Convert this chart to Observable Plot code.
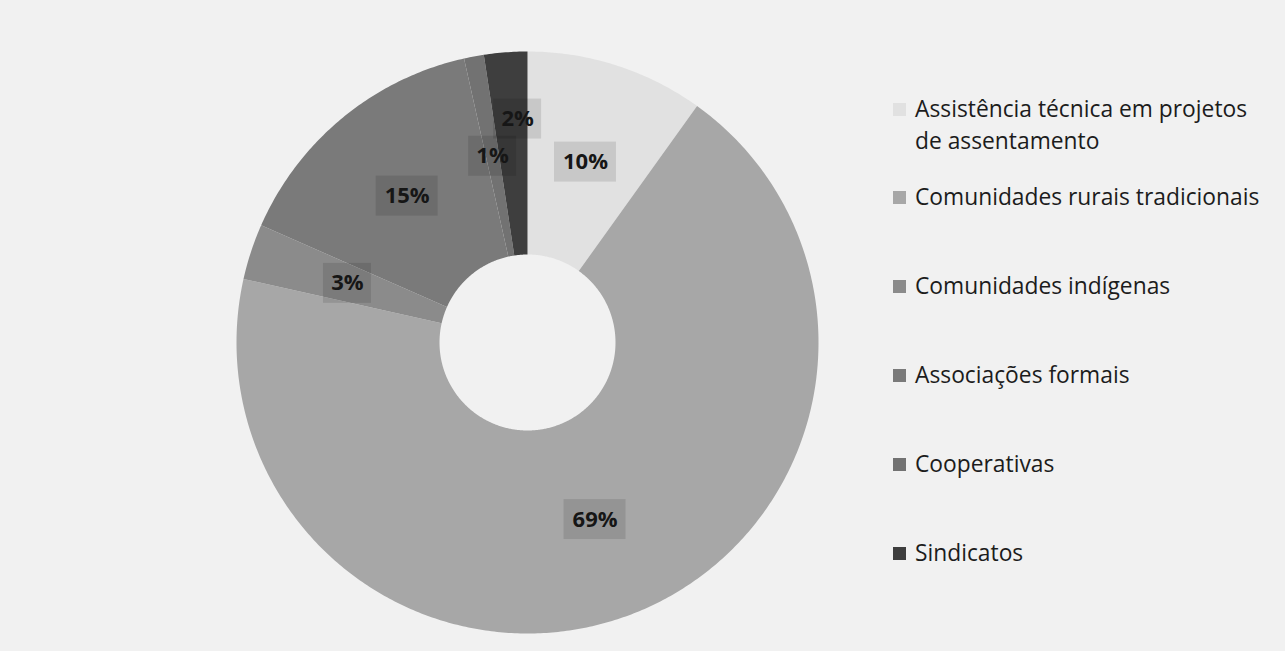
<!DOCTYPE html>
<html>
<head>
<meta charset="utf-8">
<script src="https://cdn.jsdelivr.net/npm/d3@7"></script>
<script src="https://cdn.jsdelivr.net/npm/@observablehq/plot@0.6"></script>
<style>
  html, body { margin: 0; padding: 0; background: #f1f1f1; }
  #wrap { position: relative; width: 1285px; height: 651px; overflow: hidden; }
  #legend { position: absolute; left: 893px; top: 93px; font-family: "Open Sans", sans-serif; font-size: 22.8px; color: #1c1c1c; }
  .item { display: flex; align-items: flex-start; line-height: 32px; margin-bottom: 57px; }
  .item:first-child { margin-bottom: 24px; }
  .sw { width: 13px; height: 13px; flex: none; margin-top: 10px; margin-right: 9px; }
  .txt { width: 352px; white-space: normal; }
</style>
</head>
<body>
<div id="wrap"><div id="legend"></div></div>
<script>
const categories = [
  "Assistência técnica em projetos de assentamento",
  "Comunidades rurais tradicionais",
  "Comunidades indígenas",
  "Associações formais",
  "Cooperativas",
  "Sindicatos"
];
const values = [9.9, 68.6, 3.1, 14.9, 1.1, 2.4];
const labels = ["10%", "69%", "3%", "15%", "1%", "2%"];
const colors = ["#e1e1e1", "#a7a7a7", "#8b8b8b", "#7a7a7a", "#727272", "#3e3e3e"];

const outerPx = 291, innerPx = 88;
const R0 = innerPx / outerPx;
const total = d3.sum(values);
let cum = 0;
const slices = categories.map((name, i) => {
  const a0 = cum / total * 2 * Math.PI;
  cum += values[i];
  const a1 = cum / total * 2 * Math.PI;
  return {name, value: values[i], label: labels[i], a0, a1};
});

const ring = slices.flatMap(s => {
  const n = Math.max(2, Math.ceil((s.a1 - s.a0) / 0.01));
  const pts = [];
  for (let k = 0; k <= n; k++) {
    const a = s.a0 + (s.a1 - s.a0) * k / n;
    pts.push({name: s.name, x: Math.sin(a), y: Math.cos(a)});
  }
  for (let k = n; k >= 0; k--) {
    const a = s.a0 + (s.a1 - s.a0) * k / n;
    pts.push({name: s.name, x: R0 * Math.sin(a), y: R0 * Math.cos(a)});
  }
  return pts;
});

const labelData = slices.map((s, i) => {
  const mid = (s.a0 + s.a1) / 2;
  const r = i === slices.length - 1 ? 0.77 : (1 + R0) / 2;
  const nudge = i === slices.length - 1 ? 7 / outerPx : 0;
  const x = r * Math.sin(mid) + nudge, y = r * Math.cos(mid);
  const hw = (s.label.length === 3 ? 31 : 24) / outerPx, hh = 20 / outerPx;
  return {name: s.name, label: s.label, x, y, x1: x - hw, x2: x + hw, y1: y - hh, y2: y + hh};
});

const chart = Plot.plot({
  width: 1285,
  height: 651,
  marginLeft: 236,
  marginRight: 467,
  marginTop: 51,
  marginBottom: 18,
  x: {domain: [-1, 1], axis: null},
  y: {domain: [-1, 1], axis: null},
  color: {domain: categories, range: colors},
  style: {background: "#f1f1f1", fontFamily: "Open Sans, sans-serif"},
  marks: [
    Plot.line(ring, {x: "x", y: "y", z: "name", fill: "name", stroke: "none"}),
    Plot.rect(labelData, {x1: "x1", x2: "x2", y1: "y1", y2: "y2", fill: "#000", fillOpacity: 0.11}),
    Plot.text(labelData, {x: "x", y: "y", text: "label", fontSize: 22, fontWeight: "bold", fill: "#161616"})
  ]
});
document.getElementById("wrap").prepend(chart);

const legend = d3.select("#legend");
categories.forEach((c, i) => {
  const it = legend.append("div").attr("class", "item");
  it.append("div").attr("class", "sw").style("background", colors[i]);
  it.append("div").attr("class", "txt").text(c);
});
</script>
</body>
</html>
